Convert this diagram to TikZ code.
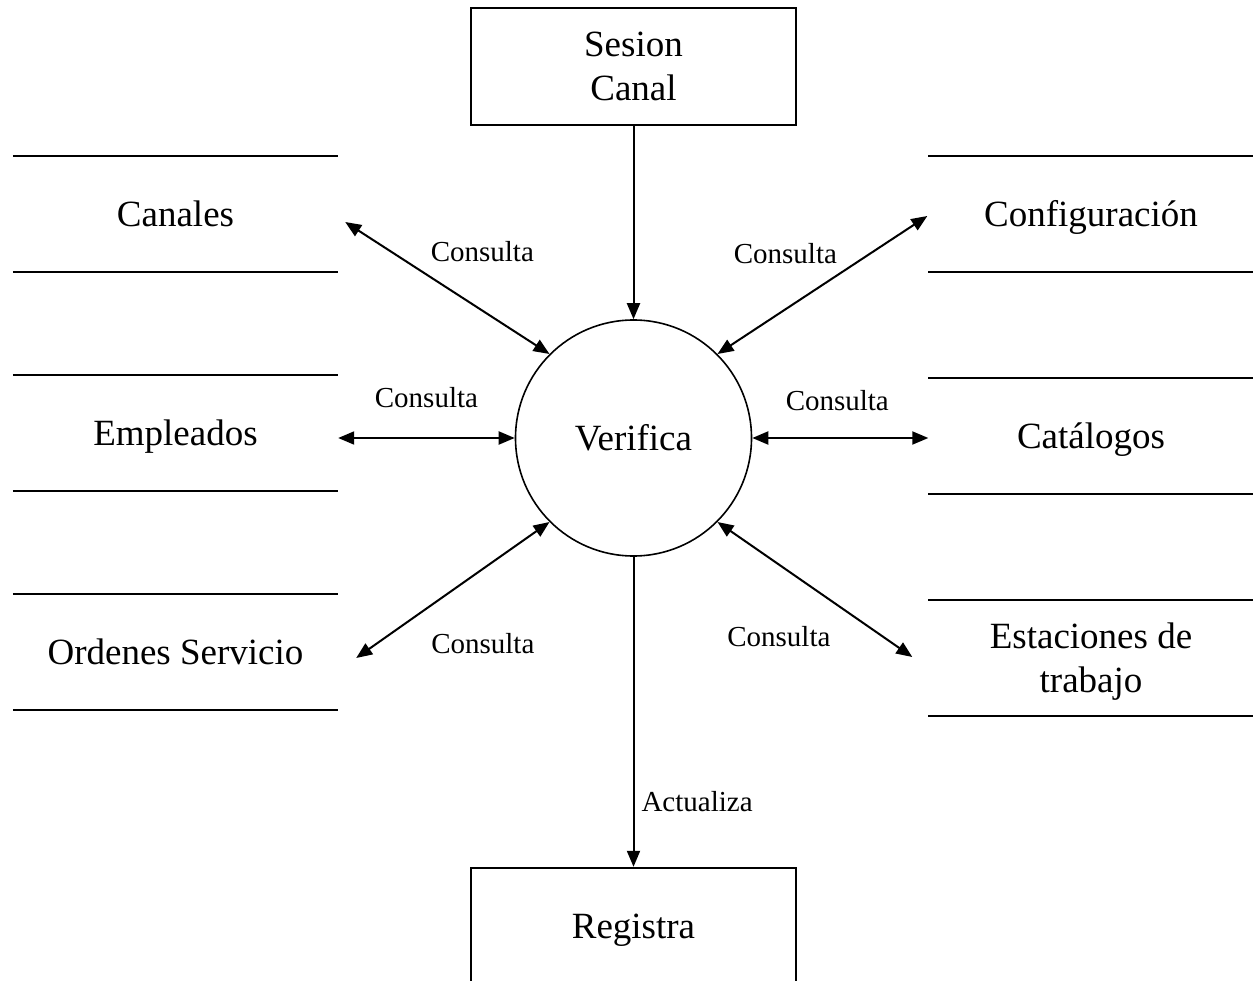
\documentclass[tikz,border=0pt]{standalone}
\usepackage{fontspec}
\setmainfont{Liberation Serif}
\usetikzlibrary{arrows.meta,positioning}

\tikzset{
  proceso/.style={draw, circle, line width=1.6pt, minimum size=236pt, inner sep=0pt, font=\fontsize{37}{44}\selectfont},
  entidad/.style={draw, rectangle, line width=2pt, minimum width=325pt, minimum height=117pt, align=center, text depth=0pt, font=\fontsize{37}{44}\selectfont},
  almacen/.style={rectangle, minimum width=325pt, minimum height=116pt, align=center, text depth=0pt, font=\fontsize{37}{44}\selectfont},
  unalinea/.style={text height=24.5pt},
  linea/.style={line width=2pt},
  flujo/.style={line width=2pt, >={Triangle[length=16pt,width=13pt]}},
  etiqueta/.style={font=\fontsize{29}{34}\selectfont, inner sep=2pt},
}

\begin{document}
\begin{tikzpicture}[x=1pt, y=-1pt]
    \useasboundingbox (0,0) rectangle (1253,981);
    \clip (0,0) rectangle (1253,981);

    \node[proceso] (verifica) at (633.5,438) {Verifica};
    \node[entidad, above=193pt of verifica] (sesion) {Sesion\\Canal};
    \node[entidad, below=310pt of verifica] (registra) {Registra};

    % almacenes de datos
    \node[almacen, unalinea] (canales) at (175.5,214) {Canales};
    \node[almacen, unalinea] (empleados) at (175.5,433) {Empleados};
    \node[almacen, unalinea] (ordenes) at (175.5,652) {Ordenes Servicio};
    \node[almacen, unalinea] (config) at (1091,214) {Configuración};
    \node[almacen, unalinea] (catalogos) at (1091,436) {Catálogos};
    \node[almacen] (estaciones) at (1091,658) {Estaciones de\\trabajo};

    \foreach \s in {canales,empleados,ordenes,config,catalogos,estaciones}
        \draw[linea] (\s.north west) -- (\s.north east) (\s.south west) -- (\s.south east);

    % flujos
    \draw[flujo, ->] (sesion) -- (verifica);
    \draw[flujo, ->] (verifica) -- (registra) node[etiqueta, pos=0.79, anchor=west, xshift=5pt] {Actualiza};
    \draw[flujo, <->] ([shift={(7,8)}]canales.east) -- (verifica.135) node[etiqueta, midway, xshift=35pt, yshift=36pt] {Consulta};
    \draw[flujo, <->] ([shift={(-1,2)}]config.west) -- (verifica.45) node[etiqueta, midway, xshift=-37pt, yshift=31pt] {Consulta};
    \draw[flujo, <->] (verifica.west -| empleados.east) -- (verifica.west) node[etiqueta, midway, yshift=40pt] {Consulta};
    \draw[flujo, <->] (verifica.east) -- (verifica.east -| catalogos.west) node[etiqueta, midway, xshift=-3pt, yshift=37pt] {Consulta};
    \draw[flujo, <->] ([shift={(18,6)}]ordenes.east) -- (verifica.225) node[etiqueta, midway, xshift=30pt, yshift=-54pt] {Consulta};
    \draw[flujo, <->] ([shift={(-16,-1)}]estaciones.west) -- (verifica.315) node[etiqueta, midway, xshift=-36pt, yshift=-47pt] {Consulta};
\end{tikzpicture}
\end{document}
